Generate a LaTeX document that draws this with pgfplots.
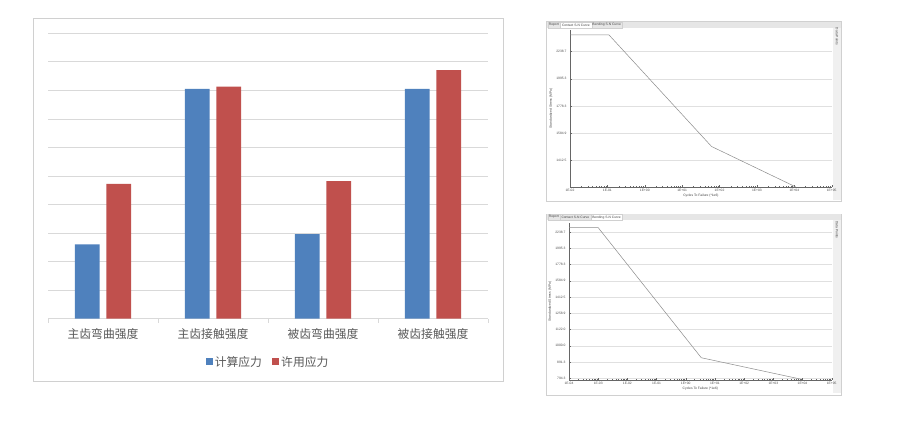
\documentclass[border=0pt]{standalone}
\usepackage{pgfplots}
\pgfplotsset{compat=1.18}
\usepackage{fontspec}
\setmainfont{Liberation Sans}
\newfontfamily\cjk{Noto Sans CJK SC}
\definecolor{barblue}{HTML}{4F81BD}
\definecolor{barred}{HTML}{C0504D}
\definecolor{gridgray}{HTML}{D9D9D9}
\definecolor{txtgray}{HTML}{595959}
\definecolor{framegray}{HTML}{D0D0D0}
\definecolor{snline}{HTML}{8C8C8C}
\definecolor{panelgray}{HTML}{F0F0F0}
\definecolor{tabgray}{HTML}{E6E6E6}
\newcommand{\snfont}{\fontsize{3.3}{4}\selectfont}
\begin{document}
\begin{tikzpicture}[x=1pt,y=1pt]
\useasboundingbox (0,0) rectangle (910,439);
\fill[white] (0,0) rectangle (910,439);
\coordinate (barSW) at (48,120.3);
\coordinate (topSW) at (570,252);
\coordinate (botSW) at (569,59);
% ---------------- left bar chart ----------------
\draw[framegray, line width=0.8pt] (33,58) rectangle (503,421);
\begin{axis}[
  at={(barSW)}, anchor=south west,
  width=440pt, height=285.4pt, scale only axis,
  xmin=-0.5, xmax=3.5, ymin=0, ymax=1000,
  ytick={0,100,...,1000}, yticklabels={},
  ymajorgrids, grid style={gridgray, line width=0.8pt},
  axis x line*=bottom, axis y line*=left,
  y axis line style={draw=none}, ytick style={draw=none},
  x axis line style={gridgray, line width=0.8pt, -},
  xtick={0,1,2,3},
  xticklabels={主齿弯曲强度,主齿接触强度,被齿弯曲强度,被齿接触强度},
  major x tick style={draw=none},
  minor xtick={-0.5,0.5,1.5,2.5,3.5},
  minor x tick style={gridgray, line width=0.8pt},
  minor tick length=4pt, tick align=outside,
  xticklabel style={font=\cjk\fontsize{11.8}{14}\selectfont, text=txtgray, yshift=-2pt},
  legend style={at={(axis description cs:0.5,-0.151)}, anchor=center, draw=none,
    font=\cjk\fontsize{11.8}{14}\selectfont, text=txtgray, legend columns=2,
    /tikz/every even column/.append style={column sep=8pt}},
  legend image code/.code={\fill[#1] (0pt,-3.6pt) rectangle (7.2pt,3.6pt);},
]
\addplot[ybar, bar width=24.7pt, bar shift=-15.7pt, fill=barblue, draw=none]
  coordinates {(0,260) (1,805) (2,296) (3,805)};
\addplot[ybar, bar width=24.7pt, bar shift=15.7pt, fill=barred, draw=none]
  coordinates {(0,472) (1,813) (2,482) (3,871)};
\legend{计算应力,许用应力}
\end{axis}
% ---------------- top right panel (Contact S-N Curve) ----------------
\draw[framegray, line width=0.5pt, fill=white] (546.7,237.3) rectangle (841.7,417.3);
\fill[tabgray] (547,411.3) rectangle (841.4,417);
\draw[framegray, line width=0.3pt, fill=tabgray] (547.7,411.3) rectangle (560,416.8);
\draw[framegray, line width=0.3pt, fill=white] (560,411.3) rectangle (591.7,417);
\draw[framegray, line width=0.3pt, fill=tabgray] (591.7,411.3) rectangle (621.7,416.8);
\node[font=\snfont, text=black!75] at (553.85,414.1) {Report};
\node[font=\snfont, text=black!75] at (575.85,414.1) {Contact S-N Curve};
\node[font=\snfont, text=black!75] at (606.7,414.1) {Bending S-N Curve};
\fill[panelgray] (832.5,238.5) rectangle (841.2,411.3);
\node[font=\snfont, text=black!75, rotate=-90] at (837,402.5) {Data Points};
\begin{axis}[
  at={(topSW)}, anchor=south west,
  width=261.7pt, height=157pt, scale only axis,
  xmode=log,
  y coord trafo/.code={\pgfmathparse{log10(#1)}},
  y coord inv trafo/.code={\pgfmathparse{10^(#1)}},
  xmin=1e-2, xmax=1e5, ymin=1262, ymax=2452,
  xtick={1e-2,1e-1,1,10,100,1000,1e4,1e5},
  xticklabels={1E-02,1E-01,1E+00,1E+01,1E+02,1E+03,1E+04,1E+05},
  ytick={1412.5,1584.9,1778.3,1995.3,2238.7},
  yticklabels={1412.5,1584.9,1778.3,1995.3,2238.7},
  minor y tick num=4,
  ymajorgrids, grid style={black!12, line width=0.3pt},
  axis x line*=bottom, axis y line*=left,
  axis line style={black!60, line width=0.4pt, -},
  tick style={black!60, line width=0.25pt},
  major tick length=1.5pt, minor tick length=1pt,
  tick label style={font=\snfont, text=black!70},
  xticklabel style={yshift=1pt},
  xlabel={Cycles To Failure (*1e6)}, ylabel={Standardized Stress (MPa)},
  label style={font=\snfont, text=black!75},
  xlabel style={yshift=5pt}, ylabel style={yshift=-3pt},
]
\addplot[snline, line width=0.5pt] coordinates {(0.01,2402) (0.11,2402) (61,1498) (1.1e4,1262)};
\end{axis}
% ---------------- bottom right panel (Bending S-N Curve) ----------------
\draw[framegray, line width=0.5pt, fill=white] (546.7,44) rectangle (841.7,225);
\fill[tabgray] (547,219) rectangle (841.4,224.7);
\draw[framegray, line width=0.3pt, fill=tabgray] (547.7,219) rectangle (560,224.5);
\draw[framegray, line width=0.3pt, fill=tabgray] (560,219) rectangle (590.7,224.5);
\draw[framegray, line width=0.3pt, fill=white] (590.7,219) rectangle (622.3,224.7);
\node[font=\snfont, text=black!75] at (553.85,221.8) {Report};
\node[font=\snfont, text=black!75] at (575.35,221.8) {Contact S-N Curve};
\node[font=\snfont, text=black!75] at (606.5,221.8) {Bending S-N Curve};
\fill[panelgray] (832.5,45.5) rectangle (841.2,219);
\node[font=\snfont, text=black!75, rotate=-90] at (837,209) {Data Points};
\begin{axis}[
  at={(botSW)}, anchor=south west,
  width=262.7pt, height=156.7pt, scale only axis,
  xmode=log,
  y coord trafo/.code={\pgfmathparse{log10(#1)}},
  y coord inv trafo/.code={\pgfmathparse{10^(#1)}},
  xmin=1e-4, xmax=1e5, ymin=785, ymax=2380,
  xtick={1e-4,1e-3,1e-2,1e-1,1,10,100,1000,1e4,1e5},
  xticklabels={1E-04,1E-03,1E-02,1E-01,1E+00,1E+01,1E+02,1E+03,1E+04,1E+05},
  ytick={794.3,891.3,1000.0,1122.0,1258.9,1412.5,1584.9,1778.3,1995.3,2238.7},
  yticklabels={794.3,891.3,1000.0,1122.0,1258.9,1412.5,1584.9,1778.3,1995.3,2238.7},
  minor y tick num=4,
  ymajorgrids, grid style={black!12, line width=0.3pt},
  axis x line*=bottom, axis y line*=left,
  axis line style={black!60, line width=0.4pt, -},
  tick style={black!60, line width=0.25pt},
  major tick length=1.5pt, minor tick length=1pt,
  tick label style={font=\snfont, text=black!70},
  xticklabel style={yshift=1pt},
  xlabel={Cycles To Failure (*1e6)}, ylabel={Standardized Stress (MPa)},
  label style={font=\snfont, text=black!75},
  xlabel style={yshift=5pt}, ylabel style={yshift=-3pt},
]
\addplot[snline, line width=0.5pt] coordinates {(1e-4,2308) (1e-3,2308) (3.4,919) (8700,790)};
\end{axis}
\end{tikzpicture}
\end{document}
